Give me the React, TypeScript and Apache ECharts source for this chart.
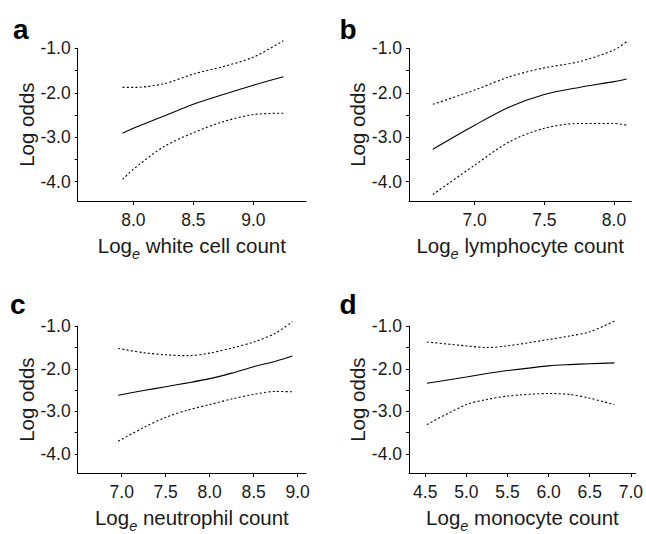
import React, { useEffect, useRef } from "react";
import * as echarts from "echarts";

// ---- Panel a: white cell count ----
const xA = [7.91, 8.0, 8.25, 8.5, 8.75, 9.0, 9.25];
const meanA = [-2.91, -2.8, -2.53, -2.26, -2.04, -1.83, -1.64];
const upperA = [-1.88, -1.88, -1.8, -1.58, -1.41, -1.2, -0.83];
const lowerA = [-3.95, -3.72, -3.22, -2.9, -2.65, -2.49, -2.46];

// ---- Panel b: lymphocyte count ----
const xB = [6.7, 7.0, 7.25, 7.5, 7.75, 8.0, 8.09];
const meanB = [-3.27, -2.73, -2.32, -2.04, -1.88, -1.75, -1.69];
const upperB = [-2.26, -1.94, -1.64, -1.44, -1.3, -1.04, -0.85];
const lowerB = [-4.29, -3.63, -3.1, -2.8, -2.69, -2.69, -2.73];

// ---- Panel c: neutrophil count ----
const xC = [6.96, 7.25, 7.5, 7.75, 8.0, 8.25, 8.5, 8.75, 8.94];
const meanC = [-2.62, -2.51, -2.42, -2.33, -2.23, -2.1, -1.95, -1.82, -1.7];
const upperC = [-1.52, -1.62, -1.67, -1.69, -1.63, -1.51, -1.37, -1.16, -0.89];
const lowerC = [-3.7, -3.38, -3.14, -2.97, -2.84, -2.71, -2.6, -2.53, -2.54];

// ---- Panel d: monocyte count ----
const xD = [4.52, 5.0, 5.25, 5.5, 6.0, 6.25, 6.5, 6.8];
const meanD = [-2.34, -2.19, -2.11, -2.04, -1.93, -1.9, -1.88, -1.86];
const upperD = [-1.37, -1.46, -1.5, -1.46, -1.31, -1.23, -1.13, -0.88];
const lowerD = [-3.31, -2.84, -2.72, -2.64, -2.58, -2.6, -2.69, -2.84];

// ---- Axis ticks / labels ----
const yLabelValues = [-4.0, -3.0, -2.0, -1.0];
const yTickValues = [-4.0, -3.5, -3.0, -2.5, -2.0, -1.5, -1.0];
const xTicksA = [8.0, 8.5, 9.0];
const xTicksB = [7.0, 7.5, 8.0];
const xTicksC = [7.0, 7.5, 8.0, 8.5, 9.0];
const xTicksD = [4.5, 5.0, 5.5, 6.0, 6.5, 7.0];

const panelLetters = ["a", "b", "c", "d"];
const xTitles = ["white cell count", "lymphocyte count", "neutrophil count", "monocyte count"];
const yTitle = "Log odds";

const FONT = "Liberation Sans, Arial, Helvetica, sans-serif";

export default function App() {
  const ref = useRef<HTMLDivElement>(null);

  useEffect(() => {
    if (!ref.current) return;
    const chart = echarts.init(ref.current, undefined, { renderer: "svg" });

    const grids = [
      { left: 77.7, top: 48.3, width: 228.3, height: 152.7 },
      { left: 409, top: 48.3, width: 222.3, height: 152.7 },
      { left: 77.7, top: 326.3, width: 228.3, height: 154 },
      { left: 409, top: 326.3, width: 227.3, height: 154 },
    ];
    const xRanges = [
      [7.536, 9.439],
      [6.529, 8.124],
      [6.5, 9.095],
      [4.302, 7.061],
    ];
    const yMins = [-4.435, -4.435, -4.448, -4.448];
    const xTicks = [xTicksA, xTicksB, xTicksC, xTicksD];
    const xs = [xA, xB, xC, xD];
    const means = [meanA, meanB, meanC, meanD];
    const uppers = [upperA, upperB, upperC, upperD];
    const lowers = [lowerA, lowerB, lowerC, lowerD];

    const axisLine = { show: true, onZero: false, lineStyle: { color: "#000", width: 1 } };

    const xAxis = grids.map((_, i) => ({
      type: "value",
      gridIndex: i,
      min: xRanges[i][0],
      max: xRanges[i][1],
      axisLine,
      axisTick: { show: true, inside: false, length: 4, lineStyle: { color: "#000", width: 1 }, customValues: xTicks[i] },
      axisLabel: {
        show: true,
        customValues: xTicks[i],
        formatter: (v: number) => v.toFixed(1),
        fontSize: 17.5,
        fontFamily: FONT,
        color: "#1a1a1a",
        margin: 10,
      },
      splitLine: { show: false },
      name: `{t|Log}{s|e}{t| ${xTitles[i]}}`,
      nameLocation: "middle",
      nameGap: 34,
      nameTextStyle: {
        fontSize: 20.5,
        fontFamily: FONT,
        color: "#1a1a1a",
        rich: {
          t: { fontSize: 20.5, fontFamily: FONT, color: "#1a1a1a", verticalAlign: "top", lineHeight: 20 },
          s: { fontSize: 14.5, fontFamily: FONT, fontStyle: "italic", color: "#1a1a1a", verticalAlign: "bottom", lineHeight: 26 },
        },
      },
    }));

    const yAxis = grids.map((_, i) => ({
      type: "value",
      gridIndex: i,
      min: yMins[i],
      max: -1.0,
      axisLine,
      axisTick: { show: true, inside: false, length: 3, lineStyle: { color: "#000", width: 1 }, customValues: yTickValues },
      axisLabel: {
        show: true,
        customValues: yLabelValues,
        formatter: (v: number) => v.toFixed(1),
        fontSize: 17.5,
        fontFamily: FONT,
        color: "#1a1a1a",
        margin: 7,
      },
      splitLine: { show: false },
      name: yTitle,
      nameLocation: "middle",
      nameGap: 41,
      nameTextStyle: { fontSize: 20.5, fontFamily: FONT, color: "#1a1a1a" },
    }));

    const series: any[] = [];
    grids.forEach((_, i) => {
      const mk = (vals: number[], dashed: boolean) => ({
        type: "line",
        xAxisIndex: i,
        yAxisIndex: i,
        data: xs[i].map((x, k) => [x, vals[k]]),
        smooth: 0.3,
        showSymbol: false,
        symbol: "none",
        clip: false,
        lineStyle: dashed
          ? { color: "#000", width: 1.1, type: [2, 2.3] }
          : { color: "#000", width: 1.1, type: "solid" },
        silent: true,
      });
      series.push(mk(means[i], false));
      series.push(mk(uppers[i], true));
      series.push(mk(lowers[i], true));
    });

    const letterPos = [
      [13, 43],
      [339.5, 43],
      [10, 318],
      [339.5, 318],
    ];
    const graphic = panelLetters.map((l, i) => ({
      type: "text",
      x: letterPos[i][0],
      y: letterPos[i][1],
      style: {
        text: l,
        font: `bold 28px ${FONT}`,
        fill: "#000",
        verticalAlign: "bottom",
        align: "left",
      },
    }));

    chart.setOption({
      animation: false,
      backgroundColor: "#fff",
      grid: grids.map((g) => ({ ...g, containLabel: false })),
      xAxis,
      yAxis,
      series,
      graphic,
    });

    return () => chart.dispose();
  }, []);

  return (
    <div
      ref={ref}
      style={{ position: "fixed", left: 0, top: 0, width: 646, height: 534, background: "#fff" }}
    />
  );
}
